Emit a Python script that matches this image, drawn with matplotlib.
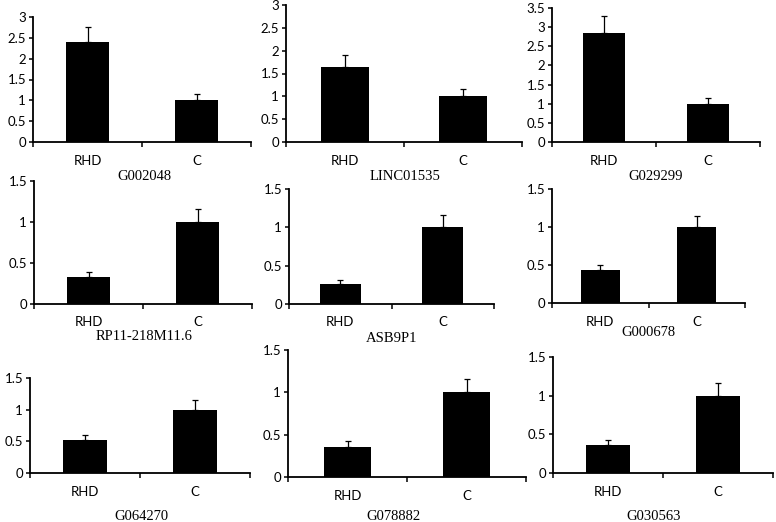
import matplotlib
matplotlib.use("Agg")
import matplotlib.pyplot as plt
from matplotlib.ticker import FormatStrFormatter, FixedLocator

# data (relative expression, RHD vs control)
genes = ["G002048", "LINC01535", "G029299",
         "RP11-218M11.6", "ASB9P1", "G000678",
         "G064270", "G078882", "G030563"]
groups = ["RHD", "C"]
rhd_vals = [2.40, 1.65, 2.85, 0.33, 0.26, 0.43, 0.52, 0.36, 0.36]
rhd_err = [0.37, 0.26, 0.45, 0.06, 0.05, 0.07, 0.08, 0.06, 0.07]
c_vals = [1.0, 1.0, 1.0, 1.0, 1.0, 1.0, 1.0, 1.0, 1.0]
c_err = [0.16, 0.17, 0.16, 0.16, 0.16, 0.15, 0.16, 0.16, 0.16]
y_max = [3, 3, 3.5, 1.5, 1.5, 1.5, 1.5, 1.5, 1.5]

# panel boxes in pixels: left, right, top, bottom (axis zero line)
W, H = 776, 522
boxes = [
    (33, 251, 17, 142), (286, 522, 5, 142), (552, 760, 8, 142),
    (34, 252, 181, 304), (289, 494, 189, 304), (552, 745, 189, 303),
    (30, 250, 378, 473), (288, 526, 350, 477), (553, 773, 357, 473),
]
# centre of each gene label (pixels)
label_pos = [
    (144, 176), (405, 177), (656, 176),
    (144, 337), (392, 338), (648, 333),
    (141, 516), (393, 516), (654, 516),
]

fig = plt.figure(figsize=(W / 100, H / 100), dpi=100)
tick_font = "Lato"

for i in range(9):
    l, r, t, b = boxes[i]
    ax = fig.add_axes([l / W, 1 - b / H, (r - l) / W, (b - t) / H])
    ax.bar([0, 1], [rhd_vals[i], c_vals[i]], width=0.4, color="black",
           yerr=[[0, 0], [rhd_err[i], c_err[i]]], capsize=2.5,
           error_kw=dict(ecolor="black", elinewidth=0.9, capthick=0.9))
    ax.set_xlim(-0.5, 1.5)
    ax.set_ylim(0, y_max[i])
    ax.set_yticks([k * 0.5 for k in range(int(y_max[i] / 0.5) + 1)])
    ax.yaxis.set_major_formatter(FormatStrFormatter("%g"))
    ax.set_xticks([0, 1])
    ax.set_xticklabels(groups)
    ax.xaxis.set_minor_locator(FixedLocator([-0.5, 0.5, 1.5]))
    ax.tick_params(axis="x", which="major", length=0, pad=9)
    ax.tick_params(axis="x", which="minor", length=3.5, width=1.1, direction="out")
    ax.tick_params(axis="y", length=3, width=1.1, direction="out", pad=2)
    for lab in ax.get_xticklabels() + ax.get_yticklabels():
        lab.set_fontfamily(tick_font)
        lab.set_fontsize(9.5)
    for s in ["top", "right"]:
        ax.spines[s].set_visible(False)
    for s in ["left", "bottom"]:
        ax.spines[s].set_linewidth(1.3)
    ax.patch.set_alpha(0)
    x, y = label_pos[i]
    fig.text(x / W, 1 - y / H, genes[i], ha="center", va="center",
             family="Liberation Serif", fontsize=10.5)

plt.savefig("out.png", dpi=100)
